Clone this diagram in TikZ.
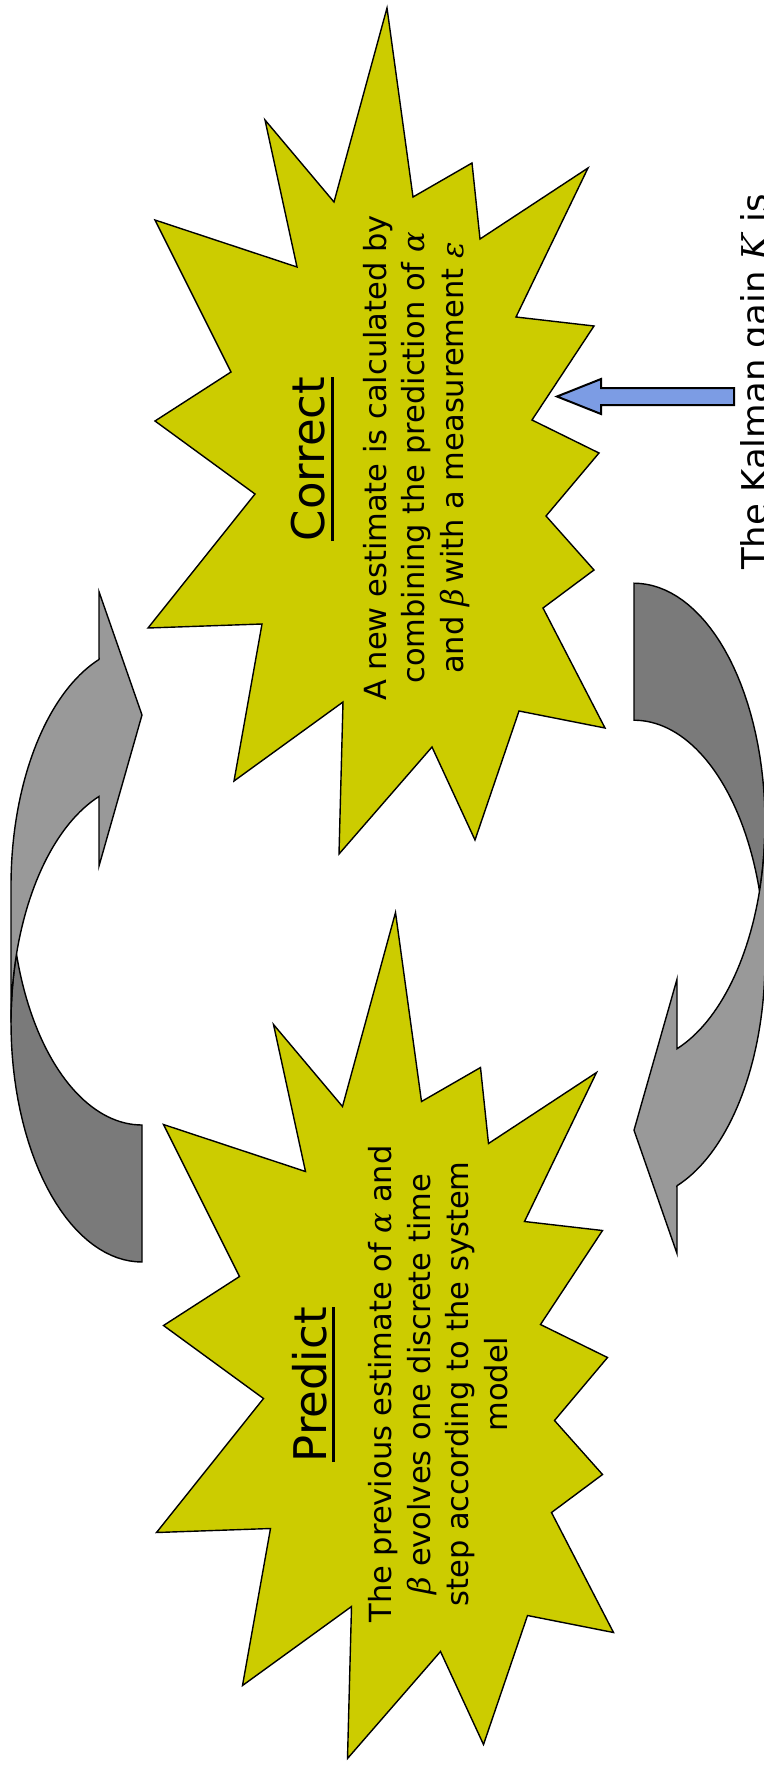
\documentclass[tikz,border=0pt]{standalone}
\usepackage{fontspec}
\setmainfont{DejaVu Sans}
\newfontfamily\greekfont{DejaVu Serif}
\usetikzlibrary{calc}
\definecolor{burstYellow}{HTML}{CCCC00}
\definecolor{loopLight}{HTML}{999999}
\definecolor{loopDark}{HTML}{7A7A7A}
\definecolor{gainBlue}{HTML}{7C9CE4}
\newcommand{\headline}[1]{\setbox0=\hbox{#1}\rlap{\rule[-9pt]{\wd0}{3pt}}\box0}
\newcommand{\gk}[1]{{\greekfont\itshape #1}}
\tikzset{
  burst/.style={draw=black, fill=burstYellow, line width=1.4pt},
  loopfront/.style={draw=black, fill=loopLight, line width=1.4pt},
  loopback/.style={draw=black, fill=loopDark, line width=1.4pt},
  gainarrow/.style={draw=black, fill=gainBlue, line width=2pt},
  steptitle/.style={rotate=90, inner sep=0pt, font=\fontsize{45}{54}\selectfont},
  stepbody/.style={rotate=90, inner sep=0pt, align=center, font=\fontsize{30.5}{38.5}\selectfont},
  gaintext/.style={rotate=90, inner sep=0pt, font=\fontsize{35.5}{43}\selectfont},
}

\begin{document}
\begin{tikzpicture}[x=1pt,y=-1pt]
  \useasboundingbox (0,0) rectangle (763,1771);
  % the two bursts (correct on top, predict below)
  \foreach \dx/\dy in {0/0,8.5/904.5} {
    \draw[burst, shift={(\dx,\dy)}] (387,8) -- (413,197) -- (472,163) -- (480,239) -- (588,168)
      -- (516,317) -- (594,326) -- (532,420) -- (599,453) -- (546,516) -- (594,570)
      -- (543,608) -- (605,728) -- (519,711) -- (475,840) -- (432,747) -- (339,854)
      -- (343,702) -- (234,781) -- (262,624) -- (148,628) -- (255,494) -- (155,421)
      -- (231,372) -- (155,220) -- (297,267) -- (265,120) -- (334,202) -- cycle;
  }

  % curved arrows, the second one turned half way round
  \foreach \ang in {0,180} {
    \begin{scope}[rotate around={\ang:(388,922.6)}]
      \draw[loopback] plot[domain=90:196.6, samples=40, variable=\t] ({142+131*cos(\t)},{1022.6+239.4*sin(\t)})
        -- plot[domain=163.4:90, samples=40, variable=\t] ({142+131*cos(\t)},{885.6+239.4*sin(\t)}) -- cycle;
      \draw[loopfront] plot[domain=180:250.84, samples=40, variable=\t] ({142+131*cos(\t)},{1022.6+239.4*sin(\t)})
        -- (99,866) -- (142,715) -- (99,591.7) -- (99,659.5)
        -- plot[domain=250.84:180, samples=40, variable=\t] ({142+131*cos(\t)},{885.6+239.4*sin(\t)}) -- cycle;
    \end{scope}
  }

  % kalman gain input
  \draw[gainarrow] (734,388) -- (601,388) -- (601,379) -- (557,396.5) -- (601,414) -- (601,405) -- (734,405) -- cycle;
  \node[gaintext, anchor=base west] (gain) at (767,570) {The Kalman gain \gk{K} is};

  % texts (base of a multi-line node = its last line)
  \node[steptitle, anchor=base] (corrtitle) at (324.5,459) {\headline{Correct}};
  \node[stepbody, anchor=base] (corrbody) at (463,458)
    {A new estimate is calculated by\\ combining the prediction of \gk{α}\\ and \gk{β}\,with a measurement \gk{ε}};
  \node[steptitle, anchor=base] (predtitle) at (326,1384.7) {\headline{Predict}};
  \node[stepbody, anchor=base] (predbody) at (507,1384)
    {The previous estimate of \gk{α} and\\ \gk{β} evolves one discrete time\\ step according to the system\\ model};
\end{tikzpicture}
\end{document}
